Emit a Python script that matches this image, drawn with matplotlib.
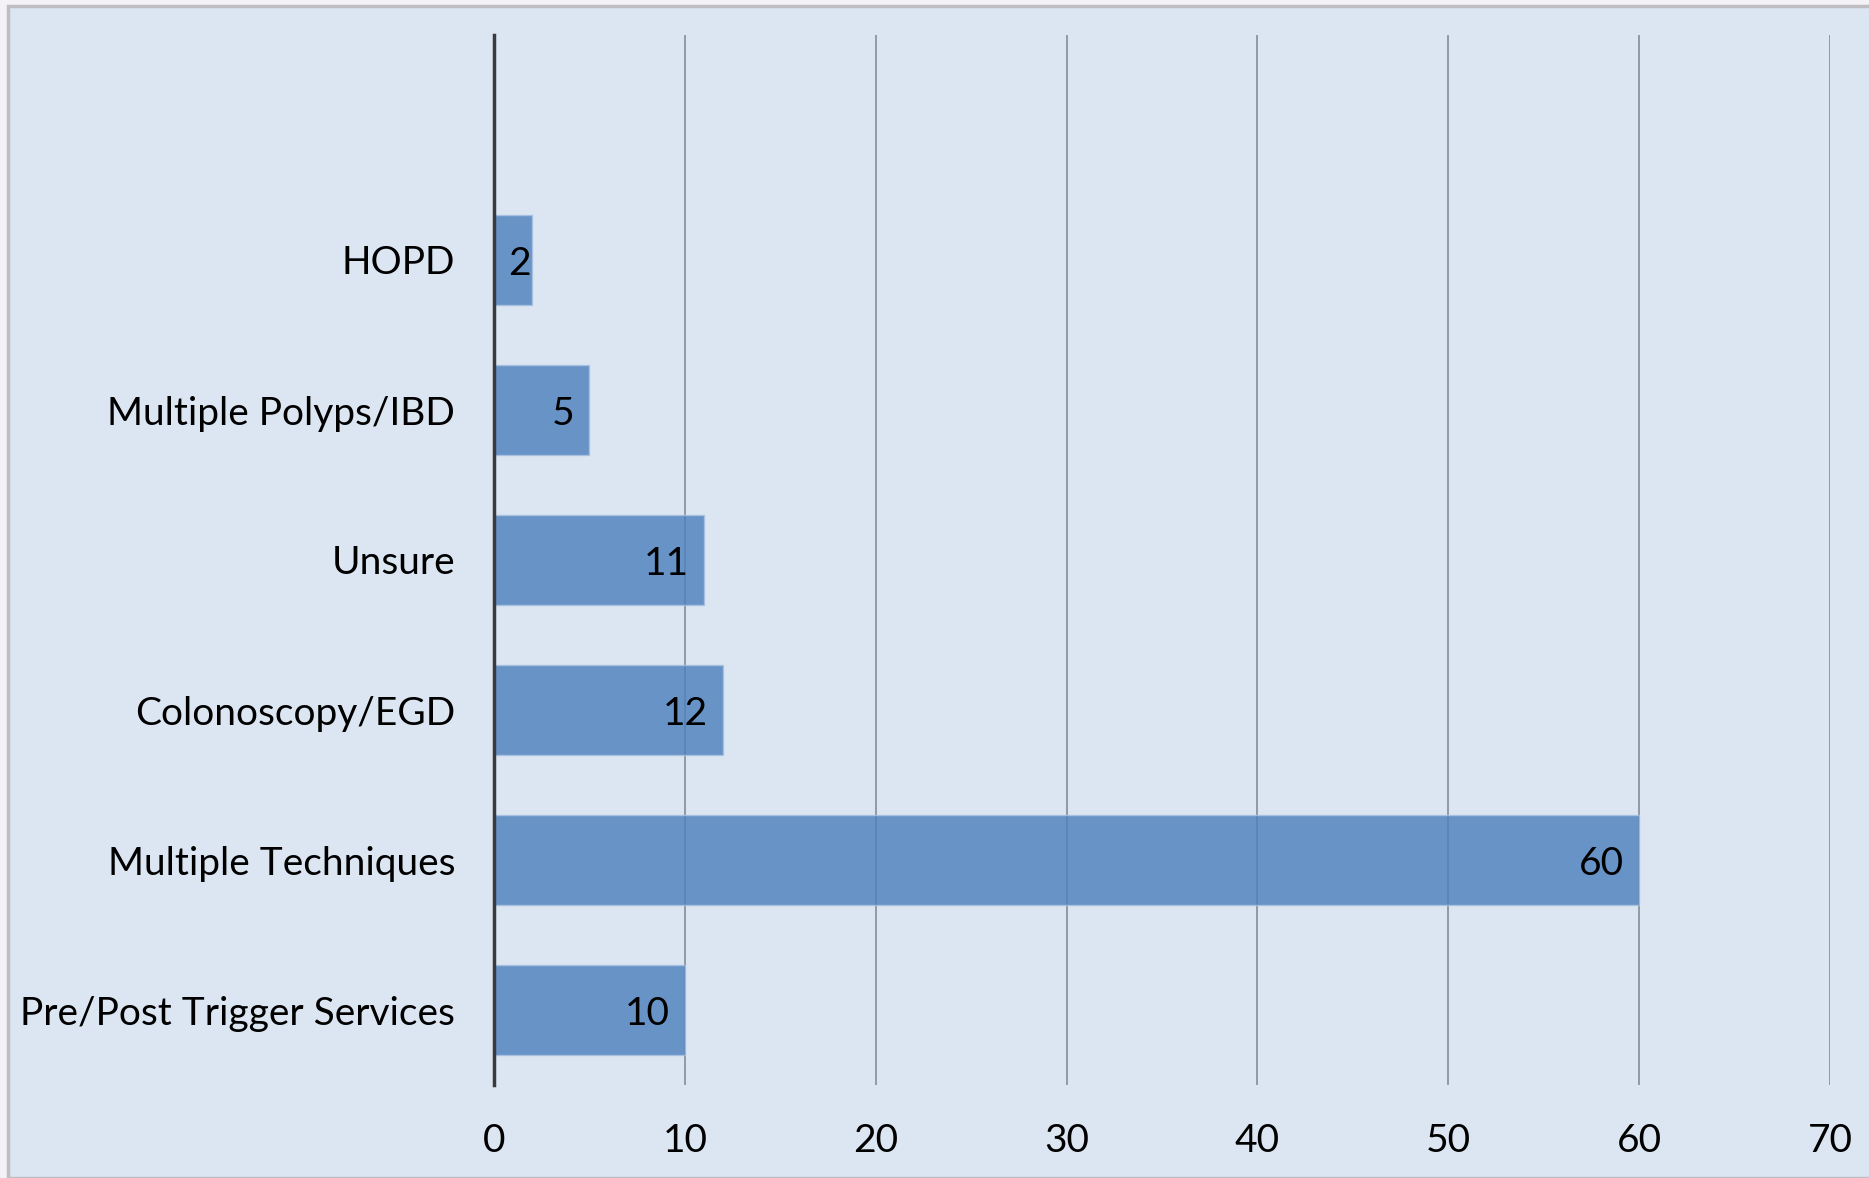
import matplotlib
matplotlib.use('Agg')
import matplotlib.pyplot as plt
from matplotlib.patches import Rectangle

# Dados (de baixo para cima)
categorias = ['Pre/Post Trigger Services', 'Multiple Techniques', 'Colonoscopy/EGD',
              'Unsure', 'Multiple Polyps/IBD', 'HOPD']
valores = [10, 60, 12, 11, 5, 2]
ticks_x = [0, 10, 20, 30, 40, 50, 60, 70]

plt.rcParams['font.family'] = ['Lato', 'DejaVu Sans']

fundo = '#DCE6F2'
fig = plt.figure(figsize=(18.69, 11.78), dpi=100, facecolor='#F4F2F7')

# moldura do slide
fig.patches.append(Rectangle((8 / 1869, 0), 1, 1 - 6 / 1178, transform=fig.transFigure,
                             facecolor=fundo, edgecolor='#BDBDC2', linewidth=2.5, zorder=-5))

ax = fig.add_axes([494 / 1869, 1 - 1085 / 1178, (1830 - 494) / 1869, (1085 - 35) / 1178])
ax.set_facecolor('none')
ax.set_zorder(2)

y = list(range(len(categorias)))
barras = ax.barh(y, valores, height=0.6, color='#4F81BD', alpha=0.82,
                 edgecolor='#A9C1E0', linewidth=1, zorder=2)

for b, v in zip(barras, valores):
    # barra curta: rótulo encostado no fim da barra
    desloc = -11 if v >= 5 else -1
    ax.annotate(str(v), xy=(b.get_width(), b.get_y() + b.get_height() / 2),
                xytext=(desloc, -3), textcoords='offset points',
                ha='right', va='center', fontsize=28, color='black', zorder=4)

ax.set_xlim(0, 70)
ax.set_ylim(-0.5, len(categorias) + 0.5)
ax.set_xticks(ticks_x)
ax.set_yticks(y)
ax.set_yticklabels(categorias)
ax.tick_params(axis='both', length=0, labelsize=28)
ax.tick_params(axis='y', pad=28)
ax.tick_params(axis='x', pad=27)

ax.grid(axis='x', color='#8E949B', linewidth=1.3, zorder=1)
ax.set_axisbelow(True)
for s in ['top', 'right', 'bottom']:
    ax.spines[s].set_visible(False)
ax.spines['left'].set_color('#3A3A3A')
ax.spines['left'].set_linewidth(2.5)
ax.spines['left'].set_zorder(3)

fig.savefig('out.png', dpi=100, facecolor=fig.get_facecolor())
